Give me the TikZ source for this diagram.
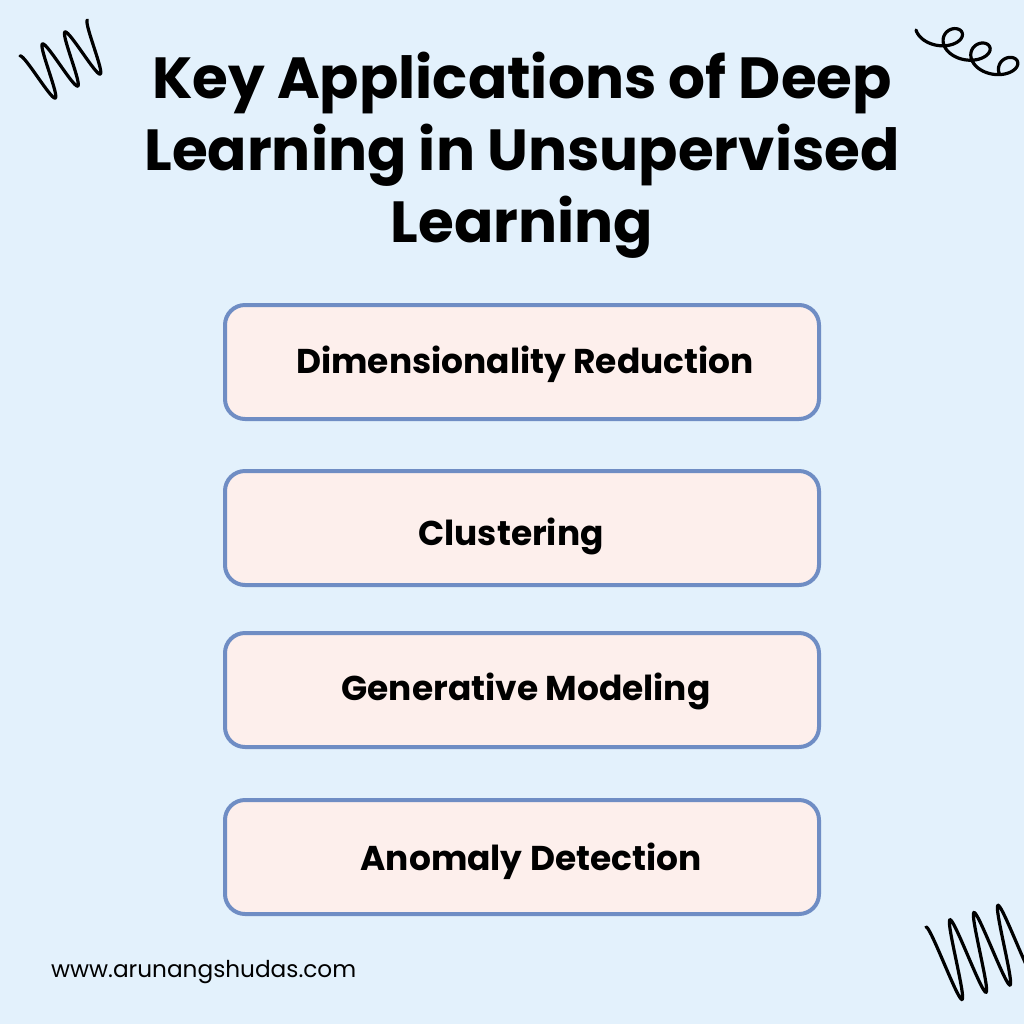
\documentclass[tikz,border=0pt]{standalone}
\usepackage{fontspec}
\setmainfont{Poppins}
\usetikzlibrary{positioning}
\definecolor{bgblue}{HTML}{E3F1FC}
\definecolor{boxfill}{HTML}{FDEFEC}
\definecolor{boxline}{HTML}{6F8DC4}
\begin{document}
\begin{tikzpicture}[
            x = 0.5pt, y = -0.5pt, % pixel grid, y down
            app/.style = {draw = boxline, line width = 2pt, fill = boxfill,
                rounded corners = 10pt, minimum width = 297pt, minimum height = 57pt},
            label/.style = {font = \fontsize{17.2}{20}\selectfont\bfseries},
            curl/.style = {line width = 1.6pt, line cap = round, black}
        ]

	% background
	\fill[bgblue] (0,0) rectangle (1024,1024);
	\useasboundingbox (0,0) rectangle (1024,1024);

	% title
	\node[font = \fontsize{29}{36}\selectfont\bfseries, align = center] (title) at (522,155)
		{Key Applications of Deep\\Learning in Unsupervised\\Learning};

	% application boxes
	\node[app] (dim) at (522,362) {};
	\node[app] (clu) at (522,528) {};
	\node[app] (gen) at (522,690) {};
	\node[app] (ano) at (522,857) {};
	\node[label] (dimt) at (525,364) {Dimensionality Reduction};
	\node[label] (clut) at (511,536) {Clustering};
	\node[label] (gent) at (526,691) {Generative Modeling};
	\node[label] (anot) at (531,861) {Anomaly Detection};

	% website
	\node[font = \fontsize{11.6}{14}\selectfont, anchor = west] (web) at (44,972) {www.arunangshudas.com};

	% squiggles
	\draw[curl, smooth, samples = 150, domain = 0:3*360]
		plot ({32 + \x/16 + 12*cos(\x + 180)}, {80 - \x/30 + 24*sin(\x + 90)*0 + 24*sin(\x - 90)});
	\draw[curl, smooth, samples = 150, domain = 0:3*360]
		plot ({932 + \x/13 + 16*cos(\x + 180)}, {30 + \x/25 + 12*sin(\x)});
	\draw[curl, smooth, samples = 150, domain = 0:3.5*360]
		plot ({938 + \x/15 + 12*cos(\x + 180)}, {965 - \x/50 + 38*sin(\x - 90)});
\end{tikzpicture}
\end{document}
